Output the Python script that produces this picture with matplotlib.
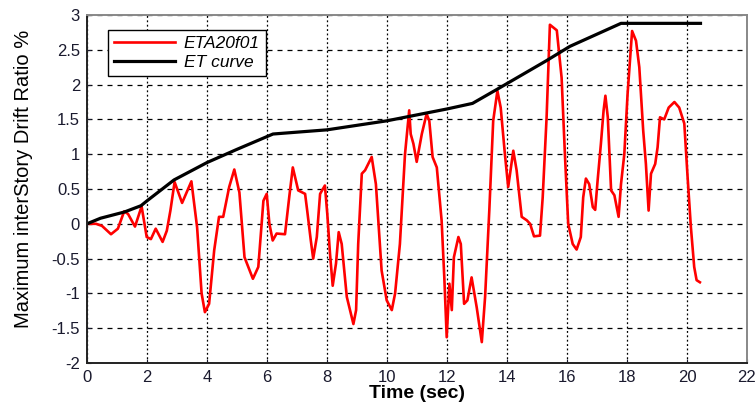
"""Maximum inter-story drift ratio vs. time, with the ET curve envelope."""

import matplotlib

matplotlib.use("Agg")
import matplotlib.pyplot as plt

OUTPUT = "out.png"

# Record ETA20f01
eta_time = [
    0.0, 0.3, 0.5, 0.8, 1.03, 1.24, 1.37, 1.6, 1.82, 1.99, 2.13, 2.29, 2.52, 2.66,
    2.78, 2.92, 3.17, 3.48, 3.67, 3.82, 3.93, 4.07, 4.24, 4.4, 4.54, 4.74, 4.91,
    5.08, 5.25, 5.53, 5.71, 5.88, 5.99, 6.08, 6.19, 6.32, 6.6, 6.74, 6.86, 7.04,
    7.27, 7.34, 7.46, 7.54, 7.66, 7.77, 7.93, 8.01, 8.1, 8.19, 8.3, 8.39, 8.49,
    8.66, 8.88, 8.97, 9.04, 9.16, 9.27, 9.49, 9.63, 9.82, 9.99, 10.16, 10.27,
    10.43, 10.6, 10.74, 10.79, 10.88, 10.99, 11.16, 11.32, 11.41, 11.52, 11.66,
    11.82, 11.91, 11.99, 12.08, 12.16, 12.23, 12.38, 12.46, 12.57, 12.68, 12.82,
    12.99, 13.16, 13.27, 13.41, 13.54, 13.68, 13.79, 13.93, 14.04, 14.21, 14.32,
    14.49, 14.66, 14.77, 14.9, 15.1, 15.19, 15.32, 15.43, 15.66, 15.82, 15.93,
    16.04, 16.19, 16.32, 16.46, 16.54, 16.63, 16.74, 16.86, 16.94, 17.02, 17.13,
    17.22, 17.28, 17.36, 17.47, 17.58, 17.72, 17.8, 17.91, 18.02, 18.17, 18.3,
    18.41, 18.54, 18.63, 18.72, 18.8, 18.94, 19.02, 19.1, 19.24, 19.39, 19.58,
    19.74, 19.91, 20.02, 20.13, 20.24, 20.32, 20.43,
]
eta_drift = [
    0.0, 0.0, -0.03, -0.15, -0.07, 0.18, 0.14, -0.04, 0.25, -0.19, -0.22, -0.07,
    -0.26, -0.1, 0.19, 0.6, 0.3, 0.61, -0.05, -1.0, -1.27, -1.15, -0.38, 0.1, 0.1,
    0.53, 0.78, 0.45, -0.48, -0.79, -0.62, 0.33, 0.43, 0.0, -0.24, -0.14, -0.15,
    0.38, 0.81, 0.48, 0.43, 0.19, -0.24, -0.5, -0.19, 0.43, 0.55, 0.14, -0.43,
    -0.89, -0.57, -0.12, -0.29, -1.05, -1.44, -1.24, -0.29, 0.72, 0.77, 0.96,
    0.57, -0.67, -1.1, -1.24, -1.0, -0.29, 1.0, 1.63, 1.29, 1.15, 0.89, 1.29,
    1.58, 1.48, 0.96, 0.81, 0.05, -0.77, -1.63, -0.86, -1.24, -0.48, -0.19,
    -0.29, -1.15, -1.1, -0.77, -1.2, -1.7, -1.05, 0.19, 1.48, 1.91, 1.67, 1.0,
    0.53, 1.05, 0.77, 0.1, 0.05, 0.0, -0.18, -0.17, 0.38, 1.53, 2.86, 2.78, 2.1,
    1.0, 0.0, -0.29, -0.37, -0.19, 0.38, 0.65, 0.57, 0.24, 0.2, 0.62, 1.15, 1.63,
    1.84, 1.53, 0.48, 0.41, 0.1, 0.57, 1.0, 1.87, 2.77, 2.63, 2.25, 1.34, 0.86,
    0.19, 0.72, 0.86, 1.1, 1.53, 1.5, 1.67, 1.75, 1.67, 1.44, 0.67, -0.05,
    -0.62, -0.81, -0.84,
]

# ET curve (envelope)
et_time = [0, 0.45, 1.25, 1.8, 2.0, 2.9, 4.0, 5.0, 5.6, 6.2, 8.0, 10.0, 12.0,
           12.85, 13.7, 15.3, 16.1, 17.8, 20.45]
et_drift = [0, 0.08, 0.17, 0.26, 0.33, 0.63, 0.88, 1.07, 1.18, 1.29, 1.35, 1.48,
            1.65, 1.73, 1.94, 2.34, 2.55, 2.88, 2.88]

x_ticks = list(range(0, 23, 2))
y_ticks = [-2, -1.5, -1, -0.5, 0, 0.5, 1, 1.5, 2, 2.5, 3]


def main() -> None:
    plt.rcParams["font.family"] = ["Liberation Sans", "DejaVu Sans"]

    fig = plt.figure(figsize=(7.55, 4.03), dpi=100)
    ax = fig.add_axes([87 / 755, 40 / 403, 660 / 755, 348 / 403])

    ax.plot(eta_time, eta_drift, color="#ff0000", linewidth=1.9, label="ETA20f01")
    ax.plot(et_time, et_drift, color="black", linewidth=2.3, label="ET curve")

    ax.set_xlim(0, 22)
    ax.set_ylim(-2, 3)
    ax.set_xticks(x_ticks)
    ax.set_yticks(y_ticks)
    ax.set_xticklabels([str(t) for t in x_ticks])
    ax.set_yticklabels([f"{t:g}" for t in y_ticks])
    ax.tick_params(direction="in", length=3, labelsize=12, pad=5, colors="#1a1a2e")

    # MATLAB-style grid: long dashes across, short dots down
    ax.yaxis.grid(True, color="black", linewidth=0.9, linestyle=(0, (4, 4)))
    ax.xaxis.grid(True, color="black", linewidth=0.9, linestyle=(0, (1.5, 2)))
    ax.set_axisbelow(True)
    for side in ("left", "bottom"):
        ax.spines[side].set_color("#222222")
        ax.spines[side].set_linewidth(1.4)
    for side in ("top", "right"):
        ax.spines[side].set_color("#888888")
        ax.spines[side].set_linewidth(1.4)

    ax.set_xlabel("Time (sec)", fontsize=14, fontweight="bold", va="center")
    ax.xaxis.set_label_coords(0.5, -30 / 348)
    ax.set_ylabel("Maximum interStory Drift Ratio %", fontsize=14.5)
    ax.yaxis.set_label_coords(-54 / 660, 0.53)

    leg = ax.legend(
        loc="upper left",
        bbox_to_anchor=(21 / 660, 1 - 15 / 348),
        borderaxespad=0,
        fancybox=False,
        framealpha=1,
        edgecolor="black",
        prop={"style": "italic", "size": 12.5},
        handlelength=3.5,
        handletextpad=0.5,
        labelspacing=0.2,
        borderpad=0.35,
    )
    leg.get_frame().set_linewidth(1.0)

    fig.savefig(OUTPUT, dpi=100)


if __name__ == "__main__":
    main()
